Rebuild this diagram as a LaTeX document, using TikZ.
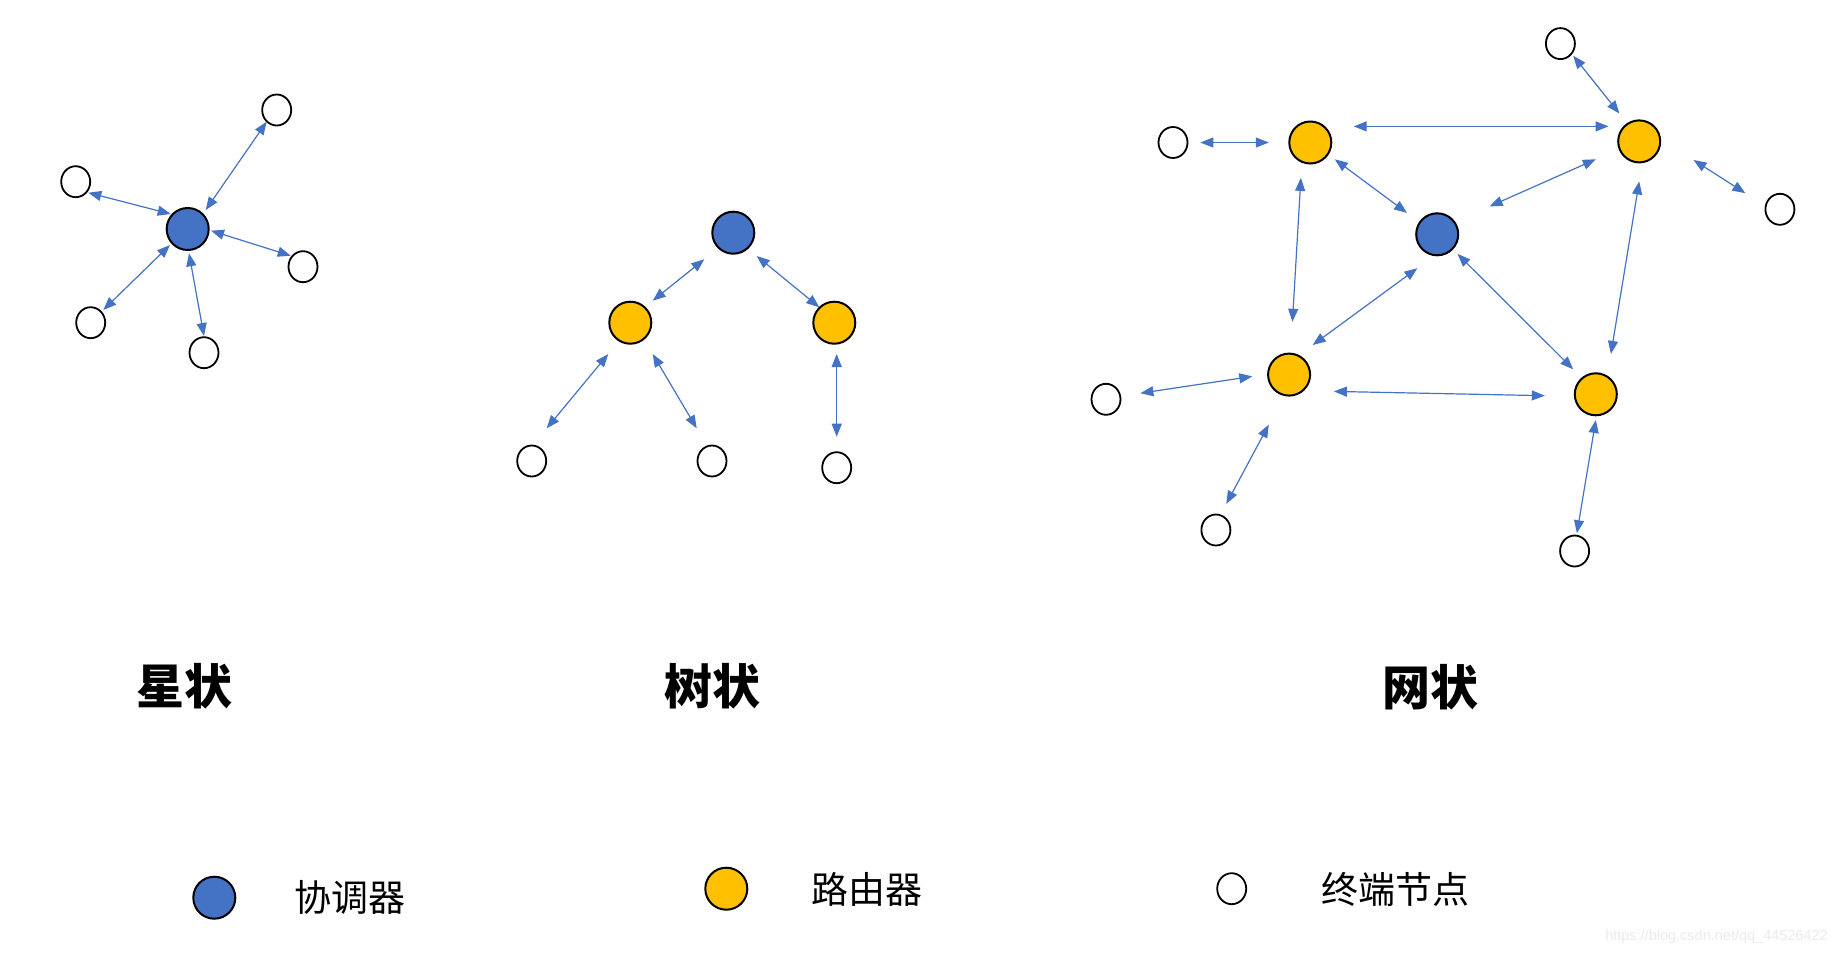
\documentclass[tikz,border=0pt]{standalone}
\usepackage{fontspec}
\newfontfamily\cjk{Noto Sans CJK SC}
\newfontfamily\wmfont{Liberation Sans}
\usetikzlibrary{arrows.meta,shapes.geometric}
\definecolor{coordblue}{HTML}{4472C4}
\definecolor{routeryellow}{HTML}{FFC000}
\definecolor{wmgray}{HTML}{EBEBEB}
\tikzset{
  coordnode/.style={circle,draw=black,line width=2pt,fill=coordblue,minimum size=42pt,inner sep=0pt},
  routernode/.style={circle,draw=black,line width=2pt,fill=routeryellow,minimum size=42pt,inner sep=0pt},
  termnode/.style={ellipse,draw=black,line width=1.8pt,fill=white,minimum width=29pt,minimum height=31pt,inner sep=0pt},
  link/.style={draw=coordblue,line width=1.2pt,{Triangle[length=13pt,width=10pt]}-{Triangle[length=13pt,width=10pt]}},
  titletext/.style={font=\cjk\bfseries\fontsize{48}{48}\selectfont,inner sep=0pt},
  legendtext/.style={font=\cjk\fontsize{37}{37}\selectfont,inner sep=0pt},
}
\begin{document}
\begin{tikzpicture}[x=1pt,y=-1pt]
\useasboundingbox[fill=white] (0,0) rectangle (1848,956);

% ---------- star ----------
\node[coordnode] (sB) at (187.7,229) {};
\node[termnode] (s1) at (276.7,110) {};
\node[termnode] (s2) at (75.7,181.7) {};
\node[termnode] (s3) at (303,266.7) {};
\node[termnode] (s4) at (90.7,322.7) {};
\node[termnode] (s5) at (204,352.7) {};
\draw[link] ([shift={(18,-19)}]sB.center) -- ([shift={(-10,11.7)}]s1.center);
\draw[link] ([shift={(-17,-15)}]sB.center) -- ([shift={(12.6,11)}]s2.center);
\draw[link] ([shift={(23.3,1.7)}]sB.center) -- ([shift={(-12.3,-11)}]s3.center);
\draw[link] ([shift={(-17.7,16)}]sB.center) -- ([shift={(12.6,-12.7)}]s4.center);
\draw[link] ([shift={(1.3,24.3)}]sB.center) -- ([shift={(0,-16.7)}]s5.center);

% ---------- tree ----------
\node[coordnode] (tB) at (733.3,232.7) {};
\node[routernode] (tL) at (630.3,322.7) {};
\node[routernode] (tR) at (834.3,322.7) {};
\node[termnode] (ta) at (531.7,461) {};
\node[termnode] (tb) at (712,461) {};
\node[termnode] (tc) at (836.7,467.7) {};
\draw[link] ([shift={(-29,26.6)}]tB.center) -- ([shift={(22.4,-22)}]tL.center);
\draw[link] ([shift={(23.4,23.3)}]tB.center) -- ([shift={(-15,-15.4)}]tR.center);
\draw[link] ([shift={(-22,31.3)}]tL.center) -- ([shift={(15,-32.7)}]ta.center);
\draw[link] ([shift={(22.4,31.3)}]tL.center) -- ([shift={(-15.3,-32.7)}]tb.center);
\draw[link] ([shift={(2.4,31.3)}]tR.center) -- ([shift={(0,-31)}]tc.center);

% ---------- mesh ----------
\node[coordnode] (mB) at (1437.2,234.3) {};
\node[routernode] (mTL) at (1310.3,142.5) {};
\node[routernode] (mTR) at (1639.2,141.4) {};
\node[routernode] (mBL) at (1289.1,374.6) {};
\node[routernode] (mBR) at (1595.8,394.3) {};
\node[termnode] (wTop) at (1560.4,43.6) {};
\node[termnode] (wL) at (1173,142.5) {};
\node[termnode] (wR) at (1779.9,209.3) {};
\node[termnode] (wBLL) at (1106,399.3) {};
\node[termnode] (wBLB) at (1215.9,530) {};
\node[termnode] (wBRB) at (1574.6,551) {};
\draw[link] ([shift={(27.3,0)}]wL.center) -- ([shift={(-41.5,0)}]mTL.center);
\draw[link] ([shift={(43.4,-16.1)}]mTL.center) -- ([shift={(-30.7,-15)}]mTR.center);
\draw[link] ([shift={(12.8,12.1)}]wTop.center) -- ([shift={(-19.8,-27.8)}]mTR.center);
\draw[link] ([shift={(24.5,16.8)}]mTL.center) -- ([shift={(-30.2,-21.4)}]mB.center);
\draw[link] ([shift={(52.4,-27.9)}]mB.center) -- ([shift={(-43.4,17.9)}]mTR.center);
\draw[link] ([shift={(54.3,18.6)}]mTR.center) -- ([shift={(-34.5,-16.1)}]wR.center);
\draw[link] ([shift={(-9.4,35.4)}]mTL.center) -- ([shift={(3.3,-52.8)}]mBL.center);
\draw[link] ([shift={(0,40)}]mTR.center) -- ([shift={(15.1,-40.4)}]mBR.center);
\draw[link] ([shift={(-19.8,33.9)}]mB.center) -- ([shift={(23.6,-29.6)}]mBL.center);
\draw[link] ([shift={(20.3,19.6)}]mB.center) -- ([shift={(-22.6,-25)}]mBR.center);
\draw[link] ([shift={(34.4,-6.1)}]wBLL.center) -- ([shift={(-36.8,1.8)}]mBL.center);
\draw[link] ([shift={(44.8,16.8)}]mBL.center) -- ([shift={(-51,1.4)}]mBR.center);
\draw[link] ([shift={(-20.3,50)}]mBL.center) -- ([shift={(10.4,-26.1)}]wBLB.center);
\draw[link] ([shift={(0,25.7)}]mBR.center) -- ([shift={(2.3,-17.8)}]wBRB.center);

% ---------- titles ----------
\node[titletext] (tStar) at (184.2,686.5) {星状};
\node[titletext] (tTree) at (712,686.5) {树状};
\node[titletext] (tMesh) at (1430.8,687.5) {网状};

% ---------- legend ----------
\node[coordnode] (lB) at (214.3,897.7) {};
\node[legendtext] (lBt) at (350,897.5) {协调器};
\node[routernode] (lY) at (726.3,888.7) {};
\node[legendtext] (lYt) at (866.7,889) {路由器};
\node[termnode] (lW) at (1231.7,888.7) {};
\node[legendtext] (lWt) at (1395.8,889) {终端节点};

% ---------- watermark ----------
\node[font=\wmfont\fontsize{14.5}{14.5}\selectfont,text=wmgray,inner sep=0pt] (wm) at (1716.5,936.7) {https://blog.csdn.net/qq\_44526422};
\end{tikzpicture}
\end{document}
